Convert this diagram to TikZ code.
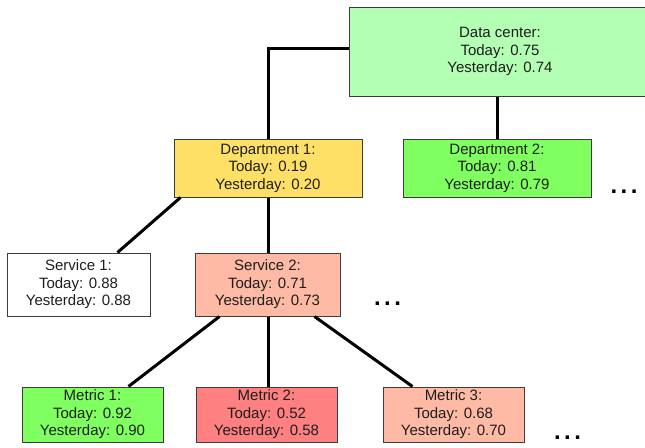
\documentclass[tikz,border=0pt]{standalone}
\usepackage{fontspec}
\setmainfont{Liberation Sans}
\begin{document}
\begin{tikzpicture}[x=1pt,y=-1pt,
  box/.style={draw=boxline, line width=1pt, inner sep=0pt, align=center,
    text=txt, font=\fontsize{15}{17.5}\selectfont},
  link/.style={line width=3pt, black},
  more/.style={anchor=base, inner sep=0pt, font=\fontsize{24}{24}\selectfont\bfseries}]
\definecolor{boxline}{HTML}{3C3C3C}
\definecolor{txt}{HTML}{1E1E1E}
\definecolor{palegreen}{HTML}{B3FFB3}
\definecolor{okgreen}{HTML}{80FF60}
\definecolor{warnyellow}{HTML}{FFE066}
\definecolor{salmon}{HTML}{FFBAA6}
\definecolor{badred}{HTML}{FF8080}
\useasboundingbox (0,0) rectangle (645,447);
\clip (0,0) rectangle (645,447);

% hierarchy boxes
\node[box, fill=palegreen, minimum width=302pt, minimum height=89pt] (dc) at (500,51.5)
  {Data center:\\Today: 0.75\\Yesterday: 0.74};
\node[box, fill=warnyellow, minimum width=188pt, minimum height=58pt] (d1) at (268,168)
  {Department 1:\\Today: 0.19\\Yesterday: 0.20};
\node[box, fill=okgreen, minimum width=188pt, minimum height=58pt] (d2) at (497,168)
  {Department 2:\\Today: 0.81\\Yesterday: 0.79};
\node[box, fill=white, minimum width=143pt, minimum height=63pt] (s1) at (78.5,284.5)
  {Service 1:\\Today: 0.88\\Yesterday: 0.88};
\node[box, fill=salmon, minimum width=145pt, minimum height=63pt] (s2) at (267.5,284.5)
  {Service 2:\\Today: 0.71\\Yesterday: 0.73};
\node[box, fill=okgreen, minimum width=141pt, minimum height=55pt] (m1) at (92.5,414.5)
  {Metric 1:\\Today: 0.92\\Yesterday: 0.90};
\node[box, fill=badred, minimum width=141pt, minimum height=55pt] (m2) at (266.5,414.5)
  {Metric 2:\\Today: 0.52\\Yesterday: 0.58};
\node[box, fill=salmon, minimum width=141pt, minimum height=55pt] (m3) at (453.5,414.5)
  {Metric 3:\\Today: 0.68\\Yesterday: 0.70};

% ellipses for omitted siblings
\node[more] (e1) at (624,193) {.\hspace{3.5pt}.\hspace{3.5pt}.};
\node[more] (e2) at (387.5,305) {.\hspace{3.5pt}.\hspace{3.5pt}.};
\node[more] (e3) at (567.5,439) {.\hspace{3.5pt}.\hspace{3.5pt}.};

% connectors
\draw[link] ([yshift=3.5pt]dc.west) -| (d1.north);
\draw[link] (dc.south -| d2.north) -- (d2.north);
\draw[link] ([xshift=7pt]d1.south west) -- ([xshift=-33pt]s1.north east);
\draw[link] (d1.south) -- (s2.north -| d1.south);
\draw[link] ([xshift=25pt]s2.south west) -- ([xshift=-35pt]m1.north east);
\draw[link] (s2.south -| m2.north) ++(1.5,0) -- ([xshift=1.5pt]m2.north);
\draw[link] ([xshift=-26pt]s2.south east) -- ([xshift=30pt]m3.north west);
\end{tikzpicture}
\end{document}
